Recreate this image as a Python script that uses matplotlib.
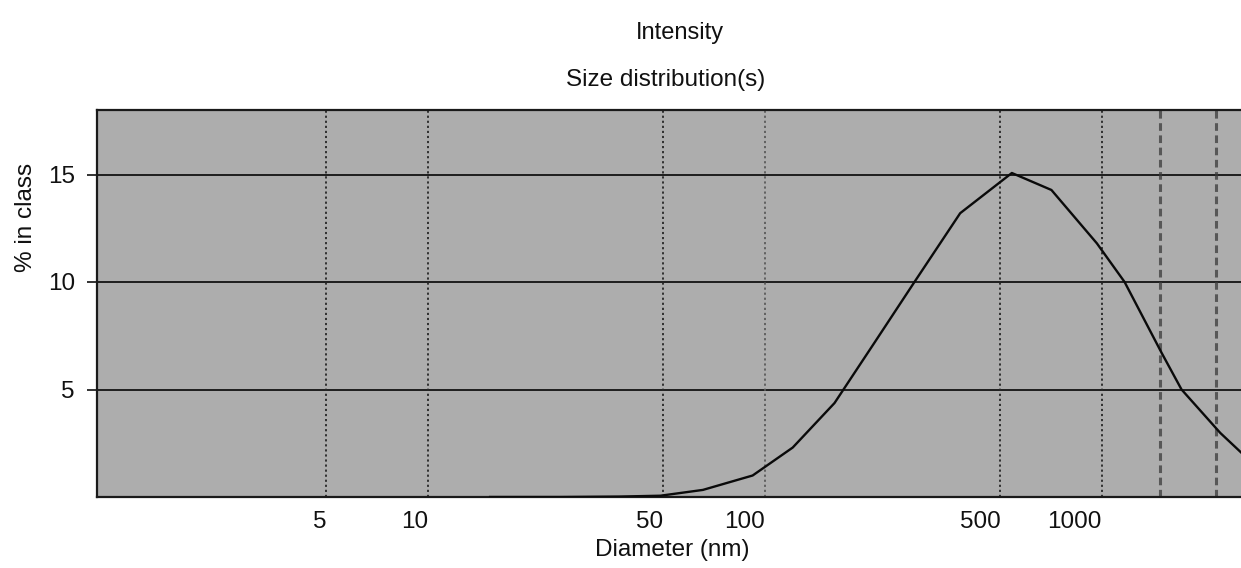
import matplotlib
matplotlib.use("Agg")
import matplotlib.pyplot as plt
from matplotlib.ticker import NullLocator, FixedLocator

plt.rcParams['font.family'] = ['Liberation Sans', 'DejaVu Sans']

# Data
diameter_nm = [15.3, 24.6, 37, 49, 65.5, 92, 121, 161, 212, 278, 380, 541,
               709, 967, 1169, 1506, 1725, 2248, 2600, 3000]
percent_in_class = [0.0, 0.0, 0.02, 0.06, 0.33, 1.0, 2.3, 4.37, 7.2, 10.0,
                    13.2, 15.07, 14.28, 11.8, 10.0, 6.7, 5.0, 2.98, 2.05, 1.2]

x_ticks = [5, 10, 50, 100, 500, 1000]
x_tick_labels = ["5", "10", "50", "100", "500", "1000"]
y_ticks = [5, 10, 15]
y_tick_labels = ["5", "10", "15"]
scan_marks = [1490, 2190]

W, H = 1241, 568
fig = plt.figure(figsize=(W / 100, H / 100), dpi=100)
fig.patch.set_facecolor('white')

left_px, right_px, top_px, bottom_px = 97, 1246, 110, 497
ax = fig.add_axes([left_px / W, 1 - bottom_px / H,
                   (right_px - left_px) / W, (bottom_px - top_px) / H])
ax.set_facecolor('#adadad')
ax.set_xscale('log')
ax.set_xlim(1.042, 2680)
ax.set_ylim(0, 18)

# grid lines
for yv in y_ticks:
    ax.axhline(yv, color='#1e1e1e', lw=1.4, zorder=1)
for xv in x_ticks:
    c = '#5a5a5a' if xv == 100 else '#262626'
    ax.axvline(xv, color=c, lw=1.3, ls=(0, (1.2, 1.6)), zorder=1)
for xv in scan_marks:
    ax.axvline(xv, color='#3a3a3a', lw=2.2, ls=(0, (2.5, 1.5)), alpha=0.75, zorder=1)

ax.plot(diameter_nm, percent_in_class, color='#0a0a0a', lw=1.7, zorder=3)

ax.xaxis.set_major_locator(FixedLocator(x_ticks))
ax.xaxis.set_minor_locator(NullLocator())
ax.set_xticklabels(x_tick_labels, fontsize=17.5, ha='right')
ax.tick_params(axis='x', length=0, pad=10, colors='#111')
ax.set_yticks(y_ticks)
ax.set_yticklabels(y_tick_labels, fontsize=17.5)
ax.tick_params(axis='y', length=7, width=1.2, pad=9, colors='#111')

for s in ['left', 'bottom', 'top']:
    ax.spines[s].set_color('#1a1a1a')
    ax.spines[s].set_linewidth(1.6)
ax.spines['right'].set_visible(False)

axw = right_px - left_px
axh = bottom_px - top_px
ax.set_xlabel("Diameter (nm)", fontsize=17.5, color='#111')
ax.xaxis.set_label_coords((672 - left_px) / axw, -(539 - bottom_px) / axh)
ax.set_ylabel("% in class", fontsize=17.5, color='#111')
ax.yaxis.set_label_coords(-(left_px - 37) / axw, (bottom_px - 217) / axh)

fig.text(680 / W, 1 - 33 / H, "Intensity", fontsize=17, ha='center', va='center', color='#111')
fig.text(666 / W, 1 - 80 / H, "Size distribution(s)", fontsize=17.5, ha='center', va='center', color='#111')

fig.savefig("out.png", dpi=100, facecolor='white')
